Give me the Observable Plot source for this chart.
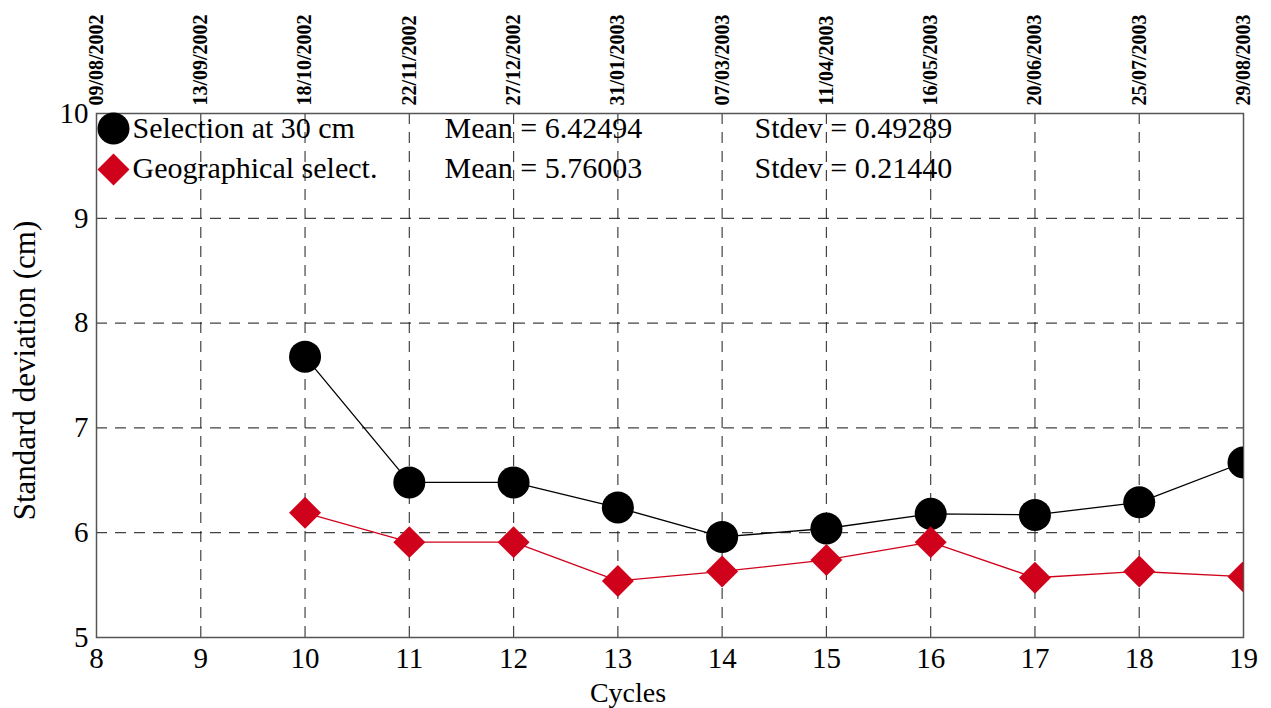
<!DOCTYPE html>
<html>
<head>
<meta charset="utf-8">
<script src="https://cdn.jsdelivr.net/npm/d3@7"></script>
<script src="https://cdn.jsdelivr.net/npm/@observablehq/plot@0.6"></script>
<style>
  html, body { margin: 0; padding: 0; background: #fff; }
  #chart svg { display: block; font-family: "Liberation Serif", "DejaVu Serif", serif !important; }
</style>
</head>
<body>
<div id="chart"></div>
<script>
const cycles = [10, 11, 12, 13, 14, 15, 16, 17, 18, 19];
const selection30 = [7.68, 6.48, 6.48, 6.24, 5.96, 6.04, 6.18, 6.17, 6.29, 6.67];
const geographical = [6.19, 5.91, 5.91, 5.54, 5.63, 5.74, 5.91, 5.57, 5.63, 5.58];

const tickCycles = [8, 9, 10, 11, 12, 13, 14, 15, 16, 17, 18, 19];
const tickDates = ["09/08/2002", "13/09/2002", "18/10/2002", "22/11/2002", "27/12/2002", "31/01/2003",
                   "07/03/2003", "11/04/2003", "16/05/2003", "20/06/2003", "25/07/2003", "29/08/2003"];
const yTicks = [5, 6, 7, 8, 9, 10];

const seriesNames = ["Selection at 30 cm", "Geographical select."];
const seriesMeans = ["6.42494", "5.76003"];
const seriesStdevs = ["0.49289", "0.21440"];
const xTitle = "Cycles";
const yTitle = "Standard deviation (cm)";

const red = "#d0021b";
const serif = "Liberation Serif";
const sans = "Liberation Sans Narrow";

const dataA = cycles.map((c, i) => ({cycle: c, v: selection30[i]}));
const dataB = cycles.map((c, i) => ({cycle: c, v: geographical[i]}));

const grid = {stroke: "#222", strokeOpacity: 0.85, strokeDasharray: "11,8", strokeWidth: 1.2};
const legendFont = 30;

const chart = Plot.plot({
  width: 1271,
  height: 708,
  marginLeft: 96,
  marginRight: 28,
  marginTop: 113,
  marginBottom: 71,
  style: {background: "#fff"},
  x: {domain: [8, 19]},
  y: {domain: [5, 10]},
  marks: [
    Plot.gridX(tickCycles.slice(1, -1), grid),
    Plot.gridY(yTicks.slice(1, -1), grid),
    Plot.frame({stroke: "#555", strokeWidth: 1.5}),
    Plot.axisX(tickCycles, {anchor: "bottom", tickSize: 0, tickPadding: 10, fontSize: 29, fontFamily: serif,
      tickFormat: d3.format("d"), label: null}),
    Plot.axisX(tickCycles, {anchor: "top", tickSize: 0, tickPadding: 8, tickRotate: -90, fontSize: 20,
      fontFamily: sans, fontWeight: 600,
      tickFormat: d => tickDates[tickCycles.indexOf(d)], label: null}),
    Plot.axisY(yTicks, {anchor: "left", tickSize: 0, tickPadding: 8, fontSize: 29, fontFamily: serif,
      tickFormat: d3.format("d"), label: null}),
    Plot.text([xTitle], {text: d => d, frameAnchor: "bottom", dx: -42, dy: 64, fontSize: 28, fontFamily: serif, fill: "black"}),
    Plot.text([yTitle], {text: d => d, frameAnchor: "left", textAnchor: "middle", dx: -71, dy: -5, rotate: -90, fontSize: 31, fontFamily: serif, fill: "black"}),
    Plot.line(dataA, {x: "cycle", y: "v", stroke: "black", strokeWidth: 1.3, clip: true}),
    Plot.line(dataB, {x: "cycle", y: "v", stroke: red, strokeWidth: 1.3, clip: true}),
    Plot.dot(dataA, {x: "cycle", y: "v", r: 16, fill: "black", clip: true}),
    Plot.dot(dataB, {x: "cycle", y: "v", symbol: "diamond2", r: 14.4, fill: red, clip: true}),
    // legend
    Plot.dot([0], {frameAnchor: "top-left", dx: 17, dy: 15, r: 16, fill: "black"}),
    Plot.dot([0], {frameAnchor: "top-left", dx: 17, dy: 56, r: 14.4, symbol: "diamond2", fill: red}),
    Plot.text([seriesNames[0]], {text: d => d, frameAnchor: "top-left", dx: 36, dy: 3, textAnchor: "start", fontSize: legendFont, fontFamily: serif, fill: "black"}),
    Plot.text([seriesNames[1]], {text: d => d, frameAnchor: "top-left", dx: 36, dy: 43, textAnchor: "start", fontSize: legendFont, fontFamily: serif, fill: "black"}),
    Plot.text([seriesMeans[0]], {text: d => "Mean = " + d, frameAnchor: "top-left", dx: 348, dy: 3, textAnchor: "start", fontSize: legendFont, fontFamily: serif, fill: "black"}),
    Plot.text([seriesMeans[1]], {text: d => "Mean = " + d, frameAnchor: "top-left", dx: 348, dy: 43, textAnchor: "start", fontSize: legendFont, fontFamily: serif, fill: "black"}),
    Plot.text([seriesStdevs[0]], {text: d => "Stdev = " + d, frameAnchor: "top-left", dx: 658, dy: 3, textAnchor: "start", fontSize: legendFont, fontFamily: serif, fill: "black"}),
    Plot.text([seriesStdevs[1]], {text: d => "Stdev = " + d, frameAnchor: "top-left", dx: 658, dy: 43, textAnchor: "start", fontSize: legendFont, fontFamily: serif, fill: "black"})
  ]
});
document.getElementById("chart").appendChild(chart);
</script>
</body>
</html>
